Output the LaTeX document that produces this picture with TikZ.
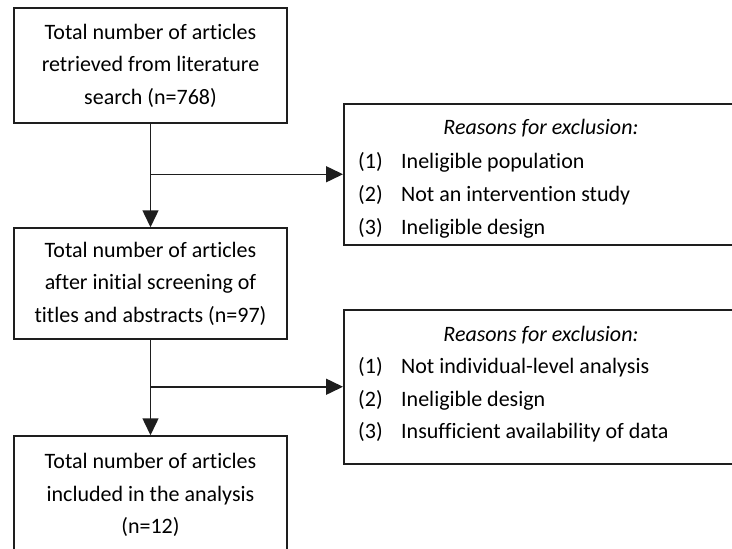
\documentclass[tikz,border=0pt]{standalone}
\usepackage{fontspec}
\setmainfont{Carlito}[Ligatures=NoCommon]
\usepackage{tikz}
\usetikzlibrary{arrows.meta, positioning, calc}
\definecolor{BoxGrey}{HTML}{1E1E1E}

\begin{document}
\begin{tikzpicture}[x=1pt, y=-1pt,
  stage/.style={rectangle, draw=BoxGrey, line width=1.5pt, minimum width=273pt, inner sep=0pt, align=center, font=\fontsize{22}{32.5}\selectfont},
  reasonbox/.style={rectangle, draw=BoxGrey, line width=1.5pt, minimum width=396pt, inner sep=0pt, anchor=north west},
  reasontitle/.style={font=\fontsize{22}{26}\selectfont\itshape, inner sep=0pt},
  reasonitem/.style={font=\fontsize{22}{26}\selectfont, anchor=west, inner sep=0pt},
  flow/.style={line width=1.5pt, draw=BoxGrey, -{Triangle[length=17pt, width=16pt]}},
]
  \useasboundingbox (0,0) rectangle (732,549);
  \clip (0,0) rectangle (732,549);
  \fill[white] (0,0) rectangle (732,549);

  % main flow
  \node[stage, minimum height=115pt] (total) at (150.5,65.5) {Total number of articles\\retrieved from literature\\search (n=768)};
  \node[stage, minimum height=111pt] (screen) at (150.5,283.5) {Total number of articles\\after initial screening of\\titles and abstracts (n=97)};
  \node[stage, minimum height=118pt] (incl) at (150.5,495) {Total number of articles\\included in the analysis\\(n=12)};

  % exclusion boxes
  \node[reasonbox, minimum height=141pt] (excl1) at (343,103) {};
  \node[reasonbox, minimum height=154pt] (excl2) at (343,309) {};
  \node[reasontitle] (why1) at (541,128) {Reasons for exclusion:};
  \node[reasontitle] (why2) at (541,335) {Reasons for exclusion:};
  \foreach \txt [count=\k] in {Ineligible population, Not an intervention study, Ineligible design}
    \node[reasonitem] (ra\k) at (358, 129+33*\k) {\makebox[43pt][l]{(\k)}\txt};
  \foreach \txt [count=\k] in {Not individual-level analysis, Ineligible design, Insufficient availability of data}
    \node[reasonitem] (rb\k) at (358, 335+32.5*\k) {\makebox[43pt][l]{(\k)}\txt};

  % connectors
  \coordinate (b1) at (total.south |- excl1.west);
  \coordinate (b2) at (screen.south |- excl2.west);
  \draw[flow] (total) -- (screen);
  \draw[flow] (screen) -- (incl);
  \draw[flow] (b1) -- (excl1.west);
  \draw[flow] (b2) -- (excl2.west);
\end{tikzpicture}
\end{document}
